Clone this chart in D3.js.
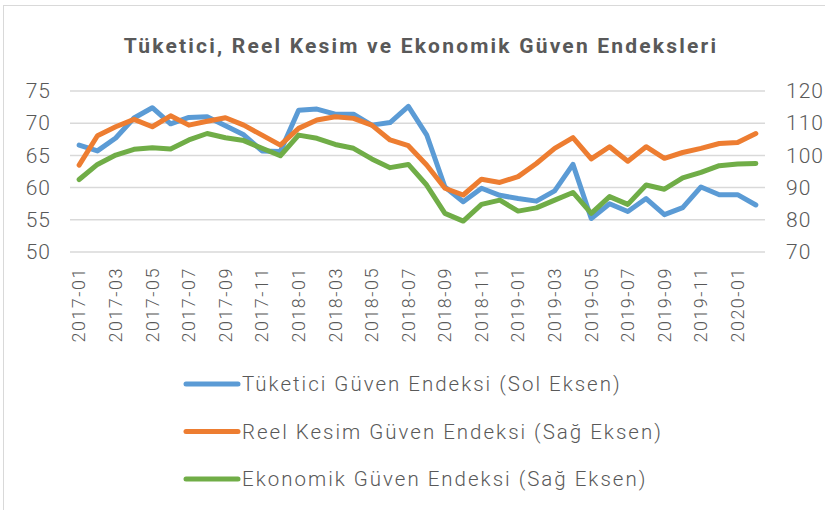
<!DOCTYPE html>
<html>
<head>
<meta charset="utf-8">
<script src="https://cdn.jsdelivr.net/npm/d3@7"></script>
<style>
  body { margin: 0; background: #fff; }
  text { font-family: Roboto, "Noto Sans", sans-serif; fill: #595959; }
</style>
</head>
<body>
<script>
// months on the category axis
const months = [
  "2017-01","2017-02","2017-03","2017-04","2017-05","2017-06","2017-07","2017-08","2017-09","2017-10","2017-11","2017-12",
  "2018-01","2018-02","2018-03","2018-04","2018-05","2018-06","2018-07","2018-08","2018-09","2018-10","2018-11","2018-12",
  "2019-01","2019-02","2019-03","2019-04","2019-05","2019-06","2019-07","2019-08","2019-09","2019-10","2019-11","2019-12",
  "2020-01","2020-02"
];

// Tüketici Güven Endeksi (left axis)
const tuketici = [
  66.6, 65.7, 67.7, 70.8, 72.4, 69.9, 70.9, 71.0, 69.6, 68.2, 65.7, 65.6,
  72.0, 72.2, 71.4, 71.4, 69.7, 70.1, 72.6, 68.2, 60.1, 57.8, 59.9, 58.8,
  58.3, 57.9, 59.5, 63.6, 55.2, 57.5, 56.3, 58.3, 55.8, 56.9, 60.1, 58.9,
  58.9, 57.3
];

// Reel Kesim Güven Endeksi (right axis)
const reelKesim = [
  97.0, 106.1, 108.9, 111.2, 108.9, 112.3, 109.4, 110.6, 111.7, 109.4, 106.3, 103.2,
  108.4, 111.0, 112.0, 111.5, 109.4, 104.8, 103.0, 97.0, 89.8, 87.7, 92.6, 91.6,
  93.4, 97.5, 102.2, 105.5, 98.9, 102.7, 98.2, 102.7, 99.1, 100.9, 102.2, 103.7,
  104.0, 106.8
];

// Ekonomik Güven Endeksi (right axis)
const ekonomik = [
  92.5, 97.2, 100.1, 101.9, 102.4, 102.0, 104.8, 106.8, 105.5, 104.6, 102.2, 99.9,
  106.3, 105.3, 103.4, 102.2, 98.9, 96.2, 97.2, 90.8, 82.0, 79.6, 84.8, 86.1,
  82.7, 83.7, 86.1, 88.5, 82.0, 87.2, 84.8, 90.8, 89.5, 93.0, 94.7, 96.8,
  97.3, 97.5
];

const leftTicks = [50, 55, 60, 65, 70, 75];
const rightTicks = [70, 80, 90, 100, 110, 120];

const title = "Tüketici, Reel Kesim ve Ekonomik Güven Endeksleri";
const seriesNames = [
  "Tüketici Güven Endeksi (Sol Eksen)",
  "Reel Kesim Güven Endeksi (Sağ Eksen)",
  "Ekonomik Güven Endeksi (Sağ Eksen)"
];
const colors = ["#5B9BD5", "#ED7D31", "#70AD47"];

const W = 825, H = 510;
const svg = d3.select("body").append("svg").attr("width", W).attr("height", H);

// chart frame
svg.append("rect")
  .attr("x", 3.5).attr("y", 5.5).attr("width", W + 10).attr("height", H + 10)
  .attr("fill", "#fff").attr("stroke", "#d9d9d9").attr("stroke-width", 1);

const x = d3.scaleBand().domain(months).range([70, 765]).padding(0);
const yL = d3.scaleLinear().domain([50, 75]).range([252, 91]);
const yR = d3.scaleLinear().domain([70, 120]).range([252, 91]);

// title
svg.append("text")
  .attr("x", 421).attr("y", 53)
  .attr("text-anchor", "middle")
  .style("font-size", "21px").style("font-weight", "bold")
  .style("letter-spacing", "2.2px")
  .text(title);

// gridlines
svg.append("g").selectAll("line").data(leftTicks).join("line")
  .attr("x1", 70).attr("x2", 765)
  .attr("y1", d => yL(d)).attr("y2", d => yL(d))
  .attr("stroke", "#d9d9d9").attr("stroke-width", 1.5);

// left axis labels
const axL = svg.append("g").attr("transform", "translate(51,0)")
  .call(d3.axisLeft(yL).tickValues(leftTicks).tickSize(0).tickPadding(0));
axL.select(".domain").remove();
axL.selectAll("text").style("font-size", "21px").style("font-weight", 300)
  .style("letter-spacing", "1px").attr("fill", "#595959");

// right axis labels
const axR = svg.append("g").attr("transform", "translate(786,0)")
  .call(d3.axisRight(yR).tickValues(rightTicks).tickSize(0).tickPadding(0));
axR.select(".domain").remove();
axR.selectAll("text").style("font-size", "21px").style("font-weight", 300)
  .style("letter-spacing", "1px").attr("fill", "#595959");

// bottom axis labels, every second month
const axB = svg.append("g").attr("transform", "translate(0,252)")
  .call(d3.axisBottom(x).tickValues(months.filter((m, i) => i % 2 == 0)).tickSize(0).tickPadding(0));
axB.select(".domain").remove();
axB.selectAll("text")
  .attr("transform", "rotate(-90)")
  .attr("x", -15).attr("y", 0).attr("dy", "0.35em")
  .attr("text-anchor", "end")
  .style("font-size", "18px").style("font-weight", 300)
  .style("letter-spacing", "1.5px")
  .attr("fill", "#595959");

// lines
const lineL = d3.line().x((d, i) => x(months[i]) + x.bandwidth() / 2).y(d => yL(d));
const lineR = d3.line().x((d, i) => x(months[i]) + x.bandwidth() / 2).y(d => yR(d));

const paths = [
  { data: tuketici, gen: lineL },
  { data: reelKesim, gen: lineR },
  { data: ekonomik, gen: lineR }
];
paths.forEach(function(p, k) {
  svg.append("path")
    .attr("d", p.gen(p.data))
    .attr("fill", "none")
    .attr("stroke", colors[k])
    .attr("stroke-width", 5)
    .attr("stroke-linejoin", "round")
    .attr("stroke-linecap", "round");
});

// legend
const leg = svg.append("g").selectAll("g").data(seriesNames).join("g")
  .attr("transform", (d, i) => "translate(186," + (384 + i * 47.5) + ")");
leg.append("line")
  .attr("x1", 0).attr("x2", 52)
  .attr("stroke", (d, i) => colors[i]).attr("stroke-width", 5)
  .attr("stroke-linecap", "round");
leg.append("text")
  .attr("x", 56).attr("dy", "0.35em")
  .style("font-size", "20.5px").style("font-weight", 300)
  .style("letter-spacing", "2px")
  .text(d => d);
</script>
</body>
</html>
